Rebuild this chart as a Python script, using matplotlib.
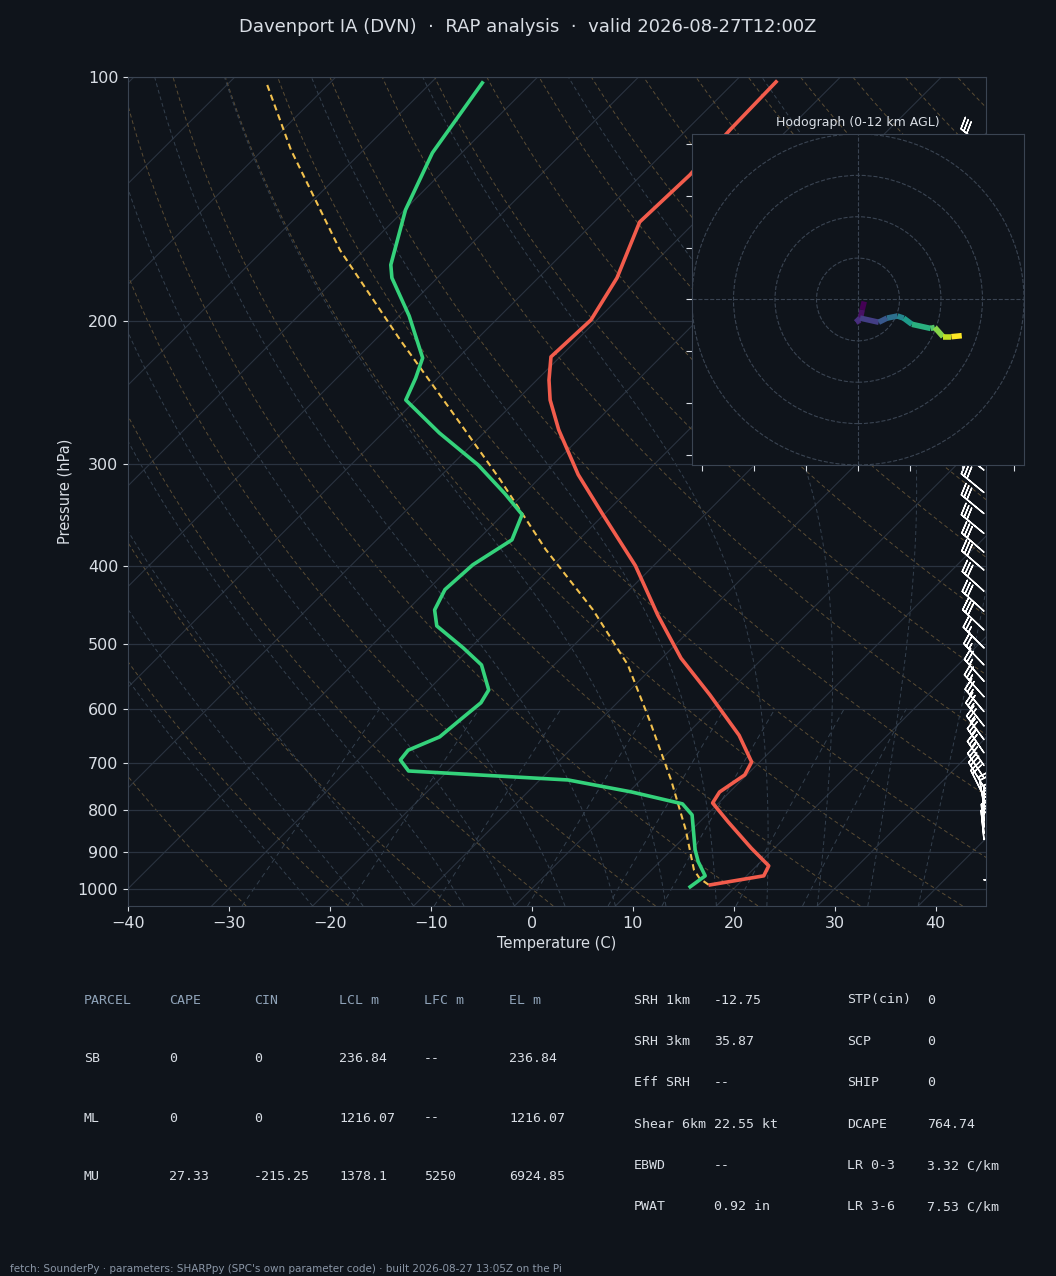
import numpy as np
import matplotlib
matplotlib.use("Agg")
import matplotlib.pyplot as plt
from matplotlib.collections import LineCollection

# ---------------- data ----------------
t_p = [101.4, 116.2, 132, 150.9, 176.8, 199.2, 221.2, 236.2, 250, 272, 309, 346, 400, 460, 520, 577, 647, 698, 724, 760, 784, 827, 891, 937, 964, 989]
t_c = [-55.9, -55.7, -55.2, -55.5, -52.2, -50.6, -50.9, -48.8, -46.7, -42.9, -36.5, -30.1, -21.8, -14.7, -8.1, -1.6, 5.3, 9.2, 9.8, 9.0, 9.4, 12.8, 17.7, 21.2, 21.7, 17.3]
td_p = [101.7, 124, 145.8, 170.4, 176.8, 197, 221.9, 234.9, 250, 274.5, 300.5, 326, 346, 371.7, 399, 428, 453.5, 474.5, 505, 530, 569, 590, 614, 650, 675, 694, 716, 734.5, 760, 786, 811, 895, 926, 964, 994.6]
td_c = [-84.9, -82.9, -79.9, -75.9, -74.5, -69.0, -63.5, -62.2, -61.0, -54.4, -47.4, -41.9, -38.1, -36.6, -38.0, -38.3, -37.3, -35.5, -30.7, -27.2, -24.0, -23.5, -23.8, -24.2, -26.0, -25.8, -23.9, -7.2, 0.3, 6.5, 8.55, 12.3, 13.8, 15.9, 15.5]
parcel_p = [102.3, 123, 163.4, 210.9, 257, 313.6, 382, 453.5, 530, 619.5, 734.5, 846, 948, 971, 992]
parcel_c = [-106, -97.2, -82.4, -67.5, -55.6, -43.7, -32.3, -21.6, -12.7, -5.1, 3.0, 9.4, 14.2, 15.6, 17.4]

barb_p = [975, 870, 855, 840, 825, 810, 790, 770, 750, 730, 705, 680, 655, 630, 605, 580, 555, 530, 505, 480, 455, 430,
          405, 385, 365, 345, 325, 305, 290, 275, 260, 245, 230, 215, 200, 190, 180, 170, 160, 150, 140, 130, 122]
barb_u = [-5, 2, 2, 1, 1, 0, 3, 8, 11, 12, 13, 13, 14, 15, 16, 17, 17, 18, 19, 20, 21, 21,
          22, 22, 23, 23, 23, 24, 24, 24, 24, 24, 24, 24, 24, 24, 24, 24, 24, 24, 24, 24, 24]
barb_v = [0, -20, -22, -22, -20, -20, -18, -16, -18, -18, -19, -19, -19, -19, -19, -19, -19, -19, -19, -19, -19, -19,
          -19, -19, -19, -19, -19, -19, -19, -19, -19, -19, -19, -19, -19, -19, -19, -19, -19, -19, -19, -19, -19]

hodo_h = [0, 0.5, 1, 1.5, 2, 3, 4, 5, 6, 7, 8, 9, 10, 11, 12]
hodo_u = [3, 2, 1, -1, 1, 10, 14, 19, 22, 26, 35, 37, 41, 45, 50]
hodo_v = [-1, -5, -10, -11, -9, -11, -9, -8, -9, -12, -14, -13.5, -18, -18, -17.5]

title = "Davenport IA (DVN)  \u00b7  RAP analysis  \u00b7  valid 2026-08-27T12:00Z"
parcel_hdr = ["PARCEL", "CAPE", "CIN", "LCL m", "LFC m", "EL m"]
parcel_rows = [["SB", "0", "0", "236.84", "--", "236.84"],
               ["ML", "0", "0", "1216.07", "--", "1216.07"],
               ["MU", "27.33", "-215.25", "1378.1", "5250", "6924.85"]]
idx_left = [("SRH 1km", "-12.75"), ("SRH 3km", "35.87"), ("Eff SRH", "--"),
            ("Shear 6km", "22.55 kt"), ("EBWD", "--"), ("PWAT", "0.92 in")]
idx_right = [("STP(cin)", "0"), ("SCP", "0"), ("SHIP", "0"), ("DCAPE", "764.74"),
             ("LR 0-3", "3.32 C/km"), ("LR 3-6", "7.53 C/km")]
footer = "fetch: SounderPy \u00b7 parameters: SHARPpy (SPC's own parameter code) \u00b7 built 2026-08-27 13:05Z on the Pi"

# ---------------- style ----------------
BG = "#0f141b"
GRID = "#2a3340"
TXT = "#d9dee5"
SK = 35.0

def skx(T, p):
    return np.asarray(T, float) + SK * np.log(1000.0 / np.asarray(p, float))

fig = plt.figure(figsize=(10.56, 12.76), dpi=100, facecolor=BG)
ax = fig.add_axes([0.1212, 0.29, 0.8125, 0.6497], facecolor=BG)
ax.set_yscale("log")
ax.set_ylim(1050, 100)
ax.set_xlim(-40, 45)

pp = np.geomspace(1050, 100, 200)
for T in range(-160, 60, 10):
    ax.plot(skx(np.full_like(pp, T), pp), pp, color=GRID, lw=0.8, zorder=1)
for th in range(-30, 220, 10):
    Tk = (th + 273.15) * (pp / 1000.0) ** 0.2857 - 273.15
    ax.plot(skx(Tk, pp), pp, color="#5a4c34", lw=0.7, ls=(0, (4, 3)), zorder=1)

def es(T):
    return 6.112 * np.exp(17.67 * T / (T + 243.5))
for T0 in range(-20, 45, 5):
    ps = np.geomspace(1050, 100, 400)
    T = float(T0)
    Ts = [T]
    for i in range(1, len(ps)):
        p = ps[i - 1]
        Tk = T + 273.15
        rs = 0.622 * es(T) / (p - es(T))
        dTdp = (287 * Tk + 2.501e6 * rs) / (1005 + 2.501e6 ** 2 * rs * 0.622 / (287 * Tk ** 2)) / p
        T = T + dTdp * (ps[i] - p)
        Ts.append(T)
    ax.plot(skx(Ts, ps), ps, color="#34404e", lw=0.7, ls=(0, (4, 3)), zorder=1)
pm = np.geomspace(1050, 600, 50)
for w in [0.4, 1, 2, 4, 7, 10, 16, 24]:
    e = pm * (w / 1000.0) / (0.622 + w / 1000.0)
    Td = 243.5 * np.log(e / 6.112) / (17.67 - np.log(e / 6.112))
    ax.plot(skx(Td, pm), pm, color="#34404e", lw=0.7, ls=(0, (5, 4)), zorder=1)

ax.set_yticks([100, 200, 300, 400, 500, 600, 700, 800, 900, 1000])
ax.set_yticklabels(["100", "200", "300", "400", "500", "600", "700", "800", "900", "1000"])
ax.yaxis.set_minor_locator(matplotlib.ticker.NullLocator())
ax.grid(axis="y", color=GRID, lw=0.9)
ax.set_xticks(range(-40, 50, 10))
ax.tick_params(colors=TXT, labelsize=11.5)
for s in ax.spines.values():
    s.set_color("#3a4452")
ax.set_ylabel("Pressure (hPa)", color=TXT, fontsize=10.5)
ax.set_xlabel("Temperature (C)", color=TXT, fontsize=10.5)

ax.plot(skx(parcel_c, parcel_p), parcel_p, color="#f2c14e", lw=1.5, ls=(0, (3, 2)), zorder=3)
ax.plot(skx(t_c, t_p), t_p, color="#f25c4c", lw=2.6, zorder=4)
ax.plot(skx(td_c, td_p), td_p, color="#34d27b", lw=2.6, zorder=4)

ax.barbs(np.full(len(barb_p), 44.8), barb_p, barb_u, barb_v, color="white", length=6.5, linewidth=1.0, zorder=5)

fig.text(0.5, 0.979, title, ha="center", va="center", color=TXT, fontsize=13)

hx = fig.add_axes([0.6553, 0.6356, 0.3144, 0.2594], facecolor=BG, zorder=10)
hx.set_xlim(-80, 80); hx.set_ylim(-80, 80)
for r in [20, 40, 60, 80]:
    hx.add_patch(plt.Circle((0, 0), r, fill=False, color="#3a4452", lw=0.8, ls="--"))
hx.axhline(0, color="#3a4452", lw=0.8, ls="--")
hx.axvline(0, color="#3a4452", lw=0.8, ls="--")
pts = np.array([hodo_u, hodo_v]).T.reshape(-1, 1, 2)
segs = np.concatenate([pts[:-1], pts[1:]], axis=1)
lc = LineCollection(segs, cmap="viridis", linewidths=4, capstyle="butt")
lc.set_array(np.array(hodo_h[:-1]))
hx.add_collection(lc)
hx.set_xticks(np.arange(-75, 80, 25)); hx.set_yticks(np.arange(-75, 80, 25))
hx.set_xticklabels([]); hx.set_yticklabels([])
hx.tick_params(colors=TXT, length=4)
for s in hx.spines.values():
    s.set_color("#3a4452")
hx.set_title("Hodograph (0-12 km AGL)", color=TXT, fontsize=9, pad=6)

mono = dict(family="DejaVu Sans Mono", fontsize=9.5)
xs = [84, 169, 254, 339, 424, 509]
for x, h in zip(xs, parcel_hdr):
    fig.text(x / 1056, 1 - 1000 / 1276, h, color="#8fa3b8", va="center", **mono)
for r, row in enumerate(parcel_rows):
    y = 1059 + 59 * r
    for x, v in zip(xs, row):
        fig.text(x / 1056, 1 - y / 1276, v, color=TXT, va="center", **mono)
for i, ((l1, v1), (l2, v2)) in enumerate(zip(idx_left, idx_right)):
    y = 1000 + 41.4 * i
    fig.text(634 / 1056, 1 - y / 1276, l1, color=TXT, va="center", **mono)
    fig.text(714 / 1056, 1 - y / 1276, v1, color=TXT, va="center", **mono)
    fig.text(847 / 1056, 1 - y / 1276, l2, color=TXT, va="center", **mono)
    fig.text(927 / 1056, 1 - y / 1276, v2, color=TXT, va="center", **mono)
fig.text(10 / 1056, 1 - 1269 / 1276, footer, color="#8a96a6", fontsize=7.5, va="center")

fig.savefig("out.png", dpi=100, facecolor=BG)
